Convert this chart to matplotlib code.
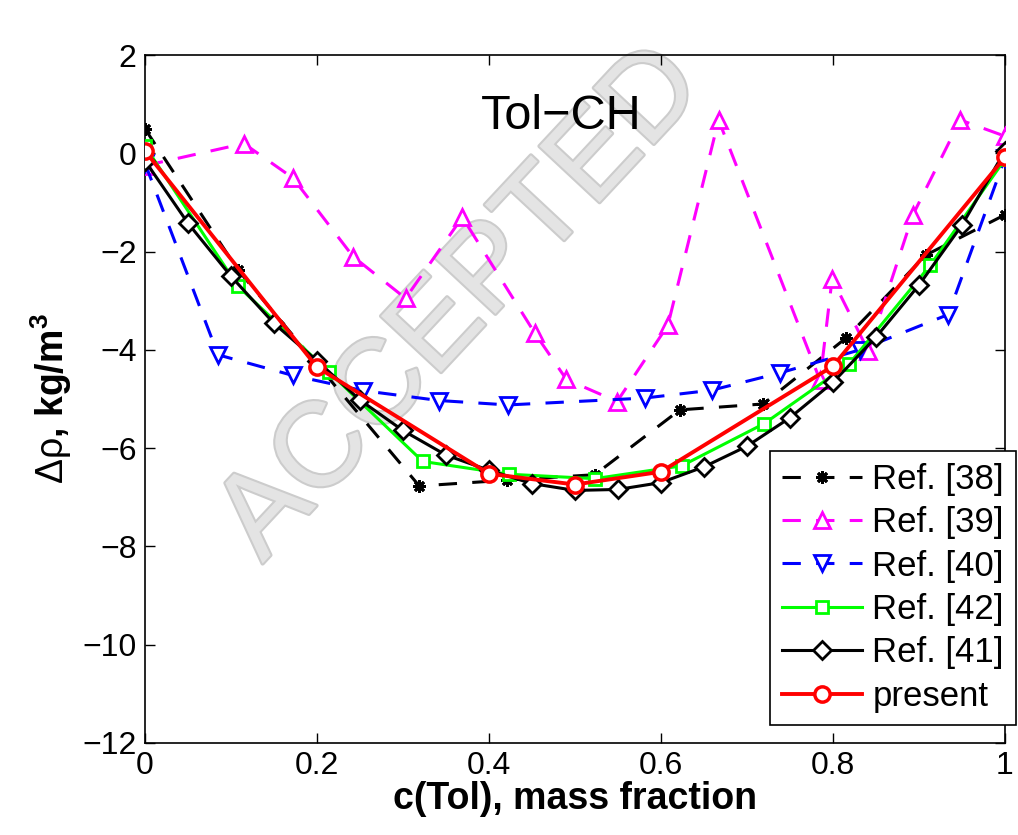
import matplotlib
matplotlib.use("Agg")
import matplotlib.pyplot as plt
import matplotlib.patheffects as pe

plt.rcParams['font.family'] = ['Liberation Sans', 'DejaVu Sans']
plt.rcParams['mathtext.fontset'] = 'custom'
plt.rcParams['mathtext.rm'] = 'Liberation Sans'
plt.rcParams['mathtext.it'] = 'Liberation Sans'
plt.rcParams['mathtext.bf'] = 'Liberation Sans:bold'

# Ref. [38]
x38 = [0.0, 0.108, 0.319, 0.421, 0.523, 0.622, 0.719, 0.815, 0.908, 1.0]
y38 = [0.5, -2.37, -6.77, -6.65, -6.54, -5.22, -5.10, -3.76, -2.07, -1.25]
# Ref. [39]
x39 = [0.0, 0.115, 0.172, 0.242, 0.303, 0.369, 0.453, 0.490, 0.549, 0.608,
       0.667, 0.785, 0.799, 0.841, 0.893, 0.948, 1.0]
y39 = [-0.25, 0.2, -0.5, -2.1, -2.95, -1.3, -3.65, -4.6, -5.05, -3.5,
       0.68, -4.62, -2.55, -4.02, -1.25, 0.68, 0.35]
# Ref. [40]
x40 = [0.0, 0.085, 0.172, 0.254, 0.342, 0.422, 0.581, 0.659, 0.738, 0.831, 0.934, 1.0]
y40 = [-0.2, -4.1, -4.52, -4.83, -5.03, -5.12, -4.98, -4.82, -4.47, -4.0, -3.28, -0.1]
# Ref. [42]
x42 = [0.0, 0.108, 0.214, 0.323, 0.423, 0.523, 0.624, 0.720, 0.819, 0.913, 1.0]
y42 = [0.15, -2.7, -4.45, -6.27, -6.53, -6.62, -6.36, -5.5, -4.28, -2.28, -0.12]
# Ref. [41]
x41 = [0.0, 0.05, 0.1, 0.15, 0.2, 0.25, 0.3, 0.35, 0.4, 0.45, 0.5,
       0.55, 0.6, 0.65, 0.7, 0.75, 0.8, 0.85, 0.9, 0.95, 1.0]
y41 = [-0.15, -1.42, -2.5, -3.46, -4.22, -5.02, -5.64, -6.14, -6.45, -6.72, -6.86,
       -6.84, -6.7, -6.38, -5.96, -5.38, -4.66, -3.74, -2.68, -1.46, 0.05]
# present
xp = [0.0, 0.2, 0.4, 0.5, 0.6, 0.8, 1.0]
yp = [0.05, -4.35, -6.52, -6.74, -6.48, -4.33, -0.08]

fig = plt.figure(figsize=(10.18, 8.35), dpi=100)
ax = fig.add_axes([0.1424, 0.1102, 0.8448, 0.8238])

# watermark (under the data lines)
ax.text(462 / 1018, 1 - 305 / 835, 'ACCEPTED', transform=fig.transFigure,
        fontsize=86, color='#e4e4e4', rotation=47, ha='center', va='center',
        rotation_mode='anchor', zorder=1, clip_on=False,
        path_effects=[pe.withStroke(linewidth=3, foreground='#cccccc')])

lw = 2.2
ax.plot(x38, y38, '--', color='black', lw=lw, marker=(8, 2, 0), ms=9, mew=2,
        dashes=(6, 5), label='Ref. [38]', zorder=3)
ax.plot(x39, y39, '--', color='#ff00ff', lw=lw, marker='^', ms=12, mew=2,
        mfc='white', dashes=(6, 5), label='Ref. [39]', zorder=3)
ax.plot(x40, y40, '--', color='#0000ff', lw=lw, marker='v', ms=12, mew=2,
        mfc='white', dashes=(6, 5), label='Ref. [40]', zorder=3)
ax.plot(x42, y42, '-', color='#00ff00', lw=lw, marker='s', ms=9, mew=2,
        mfc='white', label='Ref. [42]', zorder=4)
ax.plot(x41, y41, '-', color='black', lw=lw, marker='D', ms=9, mew=2,
        mfc='white', label='Ref. [41]', zorder=4)
ax.plot(xp, yp, '-', color='#ff0000', lw=2.8, marker='o', ms=11, mew=2.5,
        mfc='white', label='present', zorder=5)

ax.text(0.4845, 0.745, 'Tol\u2212CH', fontsize=35, ha='center', va='center', zorder=6)

ax.set_xlim(0, 1)
ax.set_ylim(-12, 2)
ax.set_xticks([0, 0.2, 0.4, 0.6, 0.8, 1])
ax.set_xticklabels(['0', '0.2', '0.4', '0.6', '0.8', '1'])
ax.set_yticks(range(-12, 3, 2))
ax.set_yticklabels(['\u221212', '\u221210', '\u22128', '\u22126', '\u22124', '\u22122', '0', '2'])
ax.tick_params(direction='in', top=True, right=True, length=7, width=1,
               labelsize=23, pad=6)
for s in ax.spines.values():
    s.set_linewidth(1.2)

ax.set_xlabel('c(Tol), mass fraction', fontsize=27, fontweight='bold', labelpad=0)
ax.set_ylabel(r'$\Delta\rho$, $\mathbf{kg/m^3}$', fontsize=27, fontweight='bold',
              labelpad=6)

leg = ax.legend(loc='lower left', bbox_to_anchor=(770 / 1018, 110 / 835),
                bbox_transform=fig.transFigure, fontsize=25, handlelength=2.3,
                labelspacing=0.3, borderaxespad=0, fancybox=False,
                framealpha=1, edgecolor='black', borderpad=0.35,
                handletextpad=0.3)
leg.get_frame().set_linewidth(1.2)
leg.set_zorder(10)

fig.savefig('out.png', dpi=100)
